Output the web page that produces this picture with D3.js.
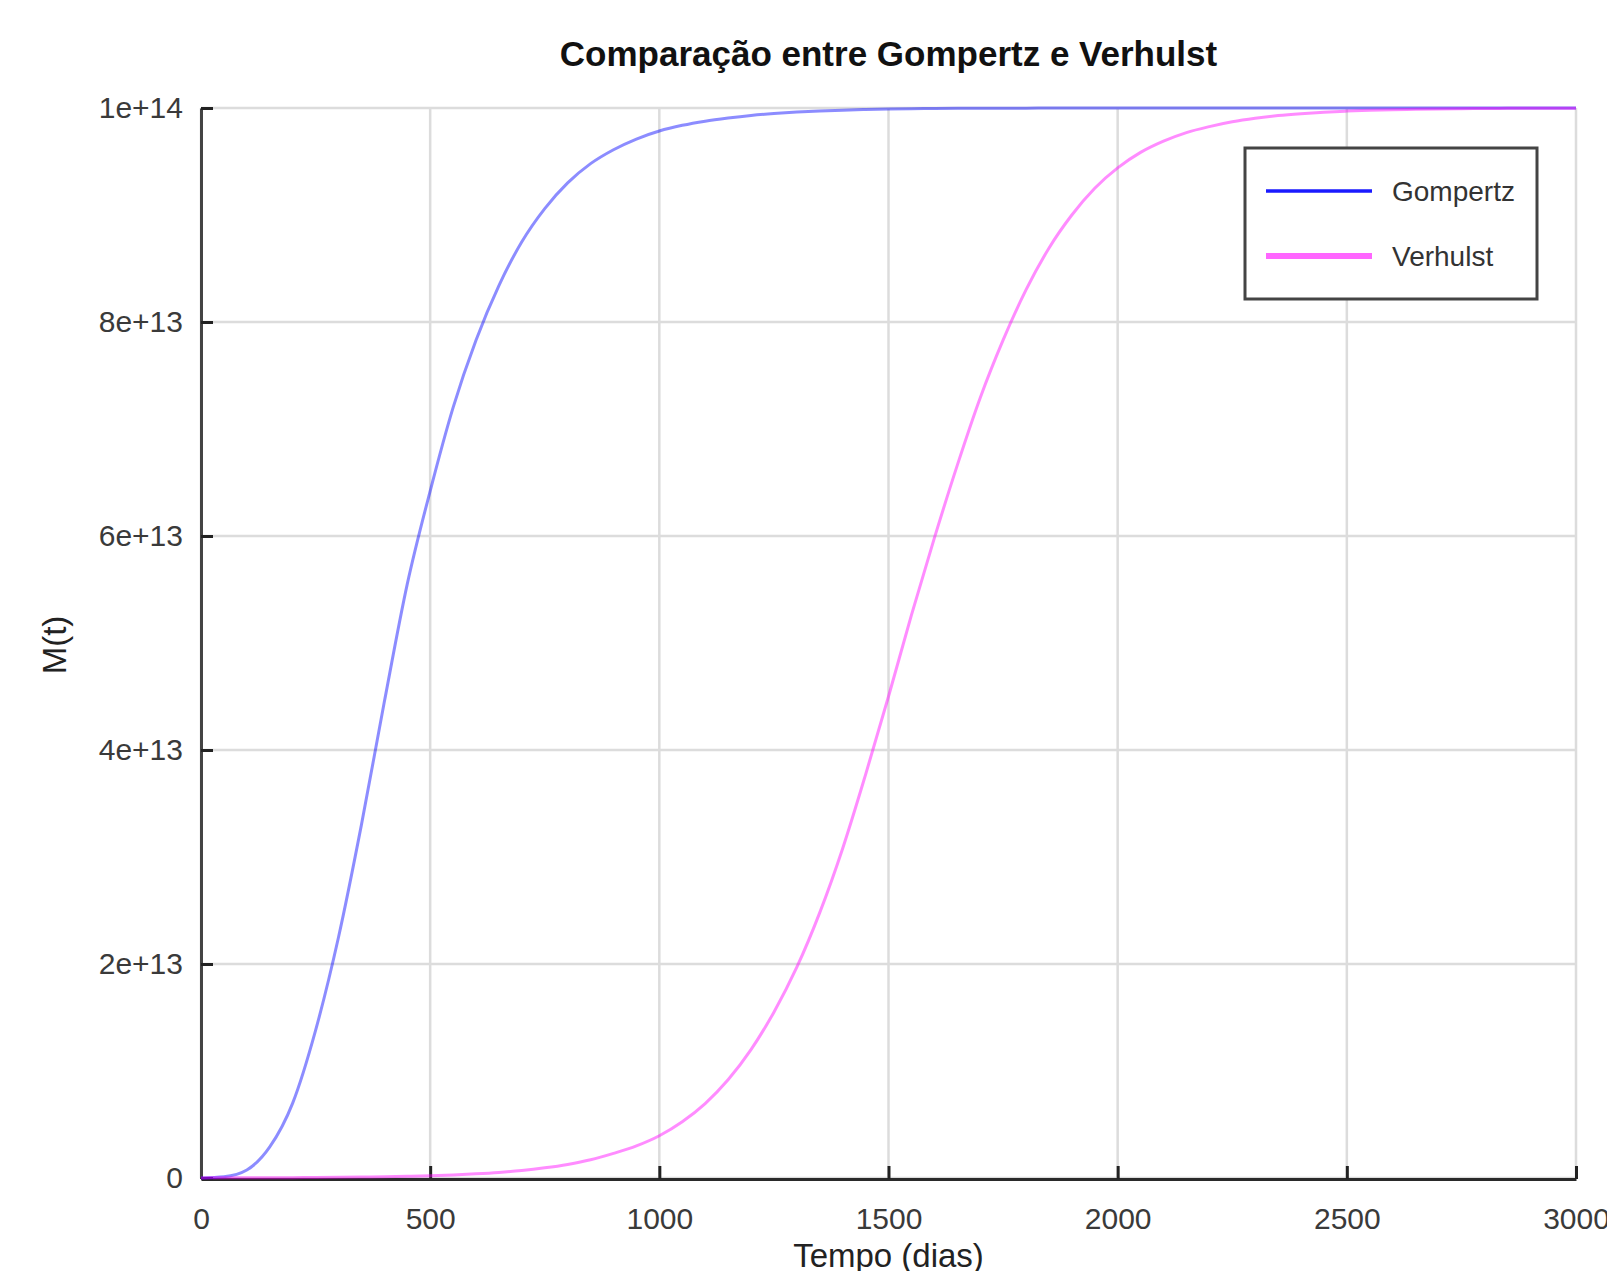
<!DOCTYPE html>
<html>
<head>
<meta charset="utf-8">
<script src="https://cdn.jsdelivr.net/npm/d3@7"></script>
<style>
  body { margin: 0; background: #fff; }
  svg { display: block; }
  text { font-family: "Liberation Sans", Arial, Helvetica, sans-serif; }
</style>
</head>
<body>
<svg id="chart" width="1607" height="1271"></svg>
<script>
// Time samples (days)
const days = [
  0, 50, 100, 150, 200, 250, 300, 350, 400, 450,
  500, 550, 600, 650, 700, 750, 800, 850, 900, 950,
  1000, 1050, 1100, 1150, 1200, 1250, 1300, 1350, 1400, 1450,
  1500, 1550, 1600, 1650, 1700, 1750, 1800, 1850, 1900, 1950,
  2000, 2050, 2100, 2150, 2200, 2250, 2300, 2350, 2400, 2450,
  2500, 2550, 2600, 2650, 2700, 2750, 2800, 2850, 2900, 2950,
  3000
];

// Gompertz model M(t)
const gompertz = [
  0.001e13, 0.012e13, 0.075e13, 0.29e13, 0.70e13, 1.38e13, 2.25e13, 3.30e13, 4.45e13, 5.55e13,
  6.42e13, 7.20e13, 7.83e13, 8.34e13, 8.75e13, 9.06e13, 9.30e13, 9.48e13, 9.61e13, 9.71e13,
  9.785e13, 9.838e13, 9.877e13, 9.906e13, 9.93e13, 9.948e13, 9.962e13, 9.972e13, 9.98e13, 9.986e13,
  9.99e13, 9.993e13, 9.995e13, 9.9965e13, 9.9975e13, 9.9983e13, 9.9988e13, 9.9992e13, 9.9994e13, 9.9996e13,
  9.9997e13, 9.9998e13, 9.9998e13, 9.9999e13, 9.9999e13, 10e13, 10e13, 10e13, 10e13, 10e13,
  10e13, 10e13, 10e13, 10e13, 10e13, 10e13, 10e13, 10e13, 10e13, 10e13,
  10e13
];

// Verhulst (logistic) model M(t)
const verhulst = [
  0.001e13, 0.0015e13, 0.002e13, 0.0026e13, 0.0035e13, 0.0047e13, 0.0064e13, 0.0087e13, 0.012e13, 0.016e13,
  0.021e13, 0.029e13, 0.039e13, 0.052e13, 0.07e13, 0.095e13, 0.127e13, 0.17e13, 0.23e13, 0.30e13,
  0.395e13, 0.526e13, 0.696e13, 0.918e13, 1.20e13, 1.55e13, 1.97e13, 2.48e13, 3.08e13, 3.77e13,
  4.50e13, 5.26e13, 5.98e13, 6.66e13, 7.29e13, 7.83e13, 8.30e13, 8.69e13, 9.00e13, 9.25e13,
  9.44e13, 9.585e13, 9.69e13, 9.77e13, 9.826e13, 9.871e13, 9.904e13, 9.929e13, 9.947e13, 9.961e13,
  9.971e13, 9.9785e13, 9.984e13, 9.988e13, 9.9912e13, 9.9935e13, 9.9952e13, 9.9965e13, 9.9974e13, 9.9981e13,
  9.9986e13
];

const xTicks = [0, 500, 1000, 1500, 2000, 2500, 3000];
const yTicks = [0, 2e13, 4e13, 6e13, 8e13, 1e14];
const yTickLabels = ["0", "2e+13", "4e+13", "6e+13", "8e+13", "1e+14"];
const seriesNames = ["Gompertz", "Verhulst"];
const titleText = "Comparação entre Gompertz e Verhulst";
const xLabelText = "Tempo (dias)";
const yLabelText = "M(t)";

// Layout
const plot = { left: 201, right: 1576, top: 108, bottom: 1178 };
const svg = d3.select("#chart");

const x = d3.scaleLinear().domain([0, 3000]).range([plot.left, plot.right]);
const y = d3.scaleLinear().domain([0, 1e14]).range([plot.bottom, plot.top]);

// Grid
const grid = svg.append("g").attr("stroke", "#dcdcdc").attr("stroke-width", 2.5);
grid.selectAll("line.vx").data(xTicks).join("line")
  .attr("x1", d => x(d)).attr("x2", d => x(d))
  .attr("y1", plot.top).attr("y2", plot.bottom);
grid.selectAll("line.hy").data(yTicks).join("line")
  .attr("x1", plot.left).attr("x2", plot.right)
  .attr("y1", d => y(d)).attr("y2", d => y(d));

// Axes with inward ticks
const xAxis = d3.axisBottom(x).tickValues(xTicks).tickFormat(d3.format("d"))
  .tickSizeInner(-13).tickSizeOuter(0).tickPadding(29);
const yAxis = d3.axisLeft(y).tickValues(yTicks).tickFormat((d, i) => yTickLabels[i])
  .tickSizeInner(-12).tickSizeOuter(0).tickPadding(18);

const gx = svg.append("g").attr("transform", `translate(0,${plot.bottom + 1})`).call(xAxis);
const gy = svg.append("g").attr("transform", `translate(${plot.left},0)`).call(yAxis);

[gx, gy].forEach(g => {
  g.select(".domain").attr("stroke", "#2a2a2a").attr("stroke-width", 3);
  g.selectAll(".tick line").attr("stroke", "#222").attr("stroke-width", 3);
  g.selectAll(".tick text").attr("fill", "#3a3a3a").style("font-size", "30px")
    .style("font-family", "'Liberation Sans', Arial, sans-serif");
});
gy.select(".domain").attr("stroke", "#444");

// Curves
const line = d3.line()
  .x((d, i) => x(days[i]))
  .y(d => y(d))
  .curve(d3.curveMonotoneX);

const curves = svg.append("g").attr("fill", "none").attr("stroke-width", 3).attr("stroke-opacity", 0.45);
curves.append("path").datum(gompertz).attr("stroke", "#0000ff").attr("d", line);
curves.append("path").datum(verhulst).attr("stroke", "#ff00ff").attr("d", line);

// Legend
const legend = svg.append("g");
legend.append("rect")
  .attr("x", 1245).attr("y", 148).attr("width", 292).attr("height", 151)
  .attr("fill", "#fff").attr("stroke", "#444").attr("stroke-width", 3);
const legendStyles = [
  { color: "#1a1aff", width: 3.5 },
  { color: "#ff66ff", width: 6 }
];
seriesNames.forEach((name, i) => {
  const ly = 191 + i * 65;
  legend.append("line")
    .attr("x1", 1266).attr("x2", 1372).attr("y1", ly).attr("y2", ly)
    .attr("stroke", legendStyles[i].color).attr("stroke-width", legendStyles[i].width);
  legend.append("text")
    .attr("x", 1392).attr("y", ly).attr("dy", "0.35em")
    .attr("fill", "#333").style("font-size", "28px")
    .text(name);
});

// Title and axis labels
const cx = (plot.left + plot.right) / 2;
svg.append("text")
  .attr("x", cx).attr("y", 66).attr("text-anchor", "middle")
  .attr("fill", "#111").style("font-size", "35px").style("font-weight", "bold")
  .text(titleText);

svg.append("text")
  .attr("x", cx).attr("y", 1267).attr("text-anchor", "middle")
  .attr("fill", "#222").style("font-size", "33px")
  .text(xLabelText);

svg.append("text")
  .attr("transform", "translate(66,645) rotate(-90)")
  .attr("text-anchor", "middle")
  .attr("fill", "#222").style("font-size", "33px")
  .text(yLabelText);
</script>
</body>
</html>
